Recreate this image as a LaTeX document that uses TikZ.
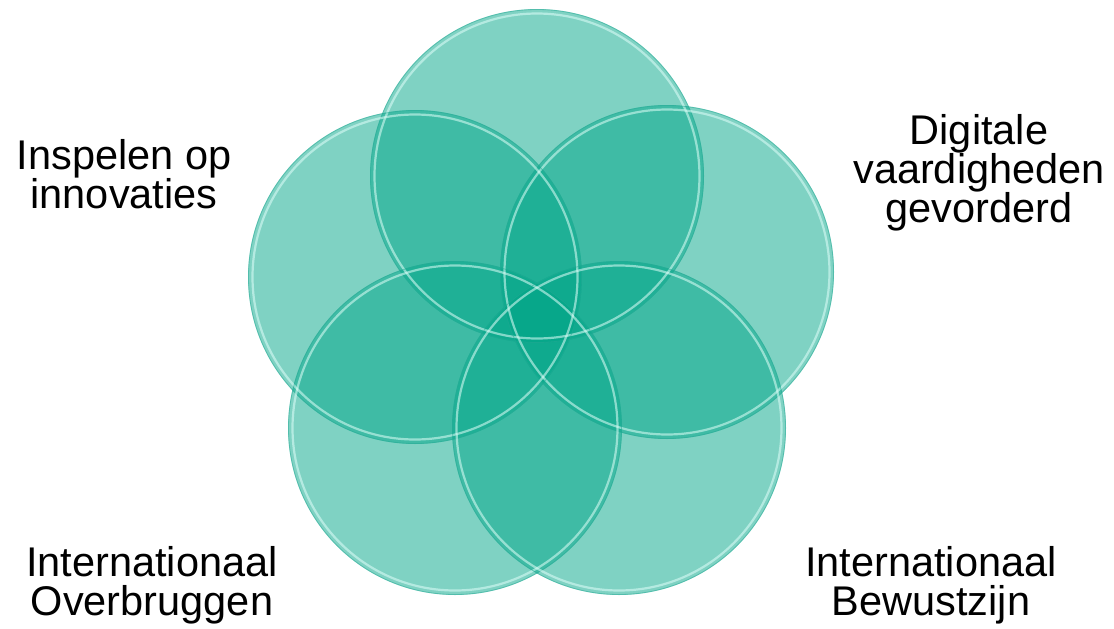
\documentclass[tikz,border=0pt]{standalone}
\usepackage{fontspec}
\setmainfont{Liberation Sans}
\definecolor{tealbase}{RGB}{0,165,135}
\definecolor{rimlight}{RGB}{225,255,250}
\definecolor{rimdark}{RGB}{40,170,150}
\tikzset{
  bubble/.style={circle, minimum size=334pt, inner sep=0pt, fill=tealbase, fill opacity=0.5, draw=none},
  rimhi/.style={draw=rimlight, line width=2.2pt, draw opacity=0.55},
  rimlo/.style={draw=rimdark, line width=0.8pt, draw opacity=0.5},
  lbl/.style={font=\fontsize{41.5}{39}\selectfont, align=center, text=black, inner sep=0pt, anchor=base}
}
\begin{document}
\begin{tikzpicture}[x=1pt,y=-1pt]
\useasboundingbox (0,0) rectangle (1114,629);
\node[bubble] (top) at (537,176) {};
\node[bubble] (right) at (667,272) {};
\node[bubble] (left) at (415,277) {};
\node[bubble] (bl) at (455,428) {};
\node[bubble] (br) at (619,428) {};
\foreach \p in {top,right,left,bl,br}{
  \draw[rimlo] (\p) circle (166.5);
  \draw[rimhi] (\p) circle (162.5);
}
\node[lbl] (t1) at (124,208) {Inspelen op\\innovaties};
\node[lbl] (t2) at (979,222) {Digitale\\vaardigheden\\gevorderd};
\node[lbl] (t3) at (152,615) {Internationaal\\Overbruggen};
\node[lbl] (t4) at (931,615) {Internationaal\\Bewustzijn};
\end{tikzpicture}
\end{document}
